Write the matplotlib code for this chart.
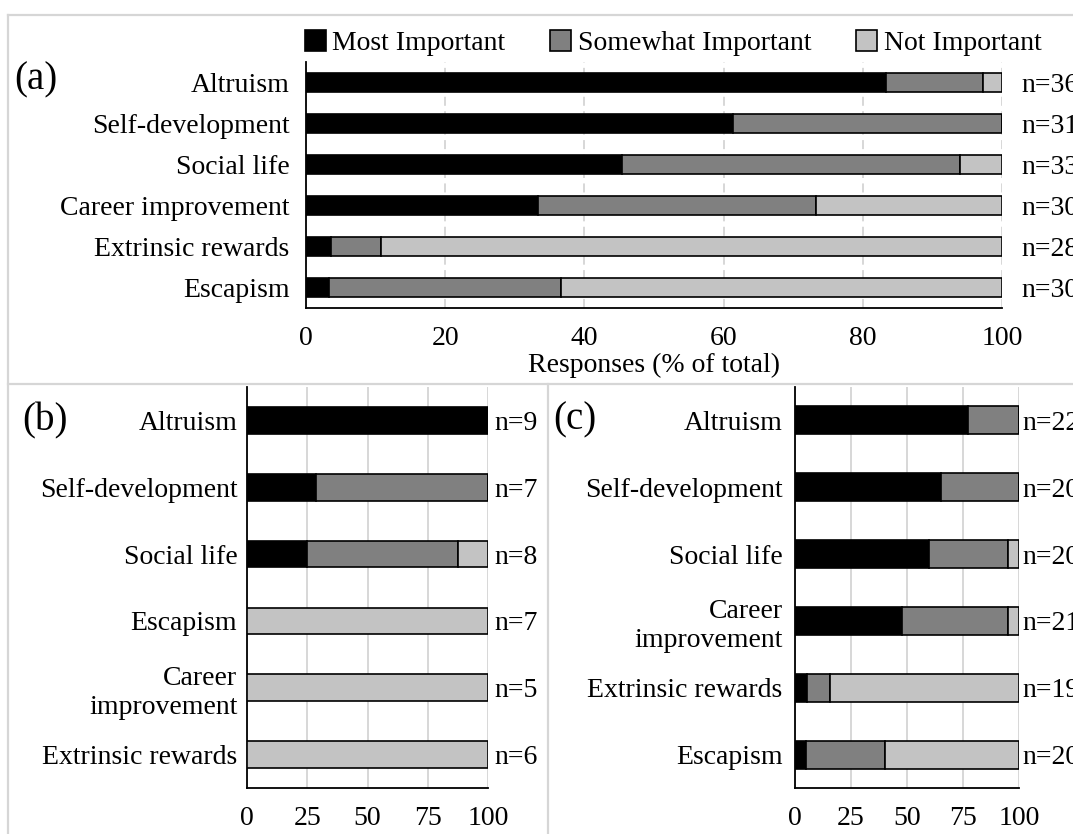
import numpy as np
import matplotlib.pyplot as plt
from matplotlib.lines import Line2D

plt.rcParams['font.family'] = ['Liberation Serif', 'DejaVu Serif']
plt.rcParams['font.size'] = 20

levels = ['Most Important', 'Somewhat Important', 'Not Important']
colors = ['#000000', '#808080', '#c3c3c3']

# panel (a): all respondents, counts per importance level
cats_a = ['Altruism', 'Self-development', 'Social life', 'Career improvement',
          'Extrinsic rewards', 'Escapism']
most_a = [30, 19, 15, 10, 1, 1]
some_a = [5, 12, 16, 12, 2, 10]
not_a = [1, 0, 2, 8, 25, 19]

# panel (b)
cats_b = ['Altruism', 'Self-development', 'Social life', 'Escapism',
          'Career\nimprovement', 'Extrinsic rewards']
most_b = [9, 2, 2, 0, 0, 0]
some_b = [0, 5, 5, 0, 0, 0]
not_b = [0, 0, 1, 7, 5, 6]

# panel (c)
cats_c = ['Altruism', 'Self-development', 'Social life', 'Career\nimprovement',
          'Extrinsic rewards', 'Escapism']
most_c = [17, 13, 12, 10, 1, 1]
some_c = [5, 7, 7, 10, 2, 7]
not_c = [0, 0, 1, 1, 16, 12]

W, H = 1073, 834
fig = plt.figure(figsize=(W / 100, H / 100), dpi=100)


def box(x0, x1, y0, y1):
    # pixel box -> figure fraction rect
    return [x0 / W, 1 - y1 / H, (x1 - x0) / W, (y1 - y0) / H]


def stacked(ax, cats, most, some, none, height, ticks, dashed, ypad, ntxt_pad):
    counts = np.array([most, some, none], dtype=float)
    n = counts.sum(axis=0)
    pct = counts / n * 100
    y = np.arange(len(cats))
    left = np.zeros(len(cats))
    bars = []
    for i in range(3):
        b = ax.barh(y, pct[i], left=left, height=height, color=colors[i],
                    edgecolor='black', linewidth=1.2, label=levels[i], zorder=3)
        bars.append(b)
        left += pct[i]
    for yi, ni in zip(y, n):
        ax.text(100 + ntxt_pad, yi, f'n={int(ni)}', va='center_baseline',
                ha='left', clip_on=False)
    ax.set_xlim(0, 100)
    ax.set_ylim(len(cats) - 0.5, -0.5)
    ax.set_yticks(y)
    ax.set_yticklabels(cats)
    ax.set_xticks(ticks)
    ax.tick_params(axis='both', length=0)
    ax.tick_params(axis='y', pad=ypad)
    ax.tick_params(axis='x', pad=13)
    ax.xaxis.grid(True, color='#d4d4d4', linewidth=1.3,
                  linestyle=(0, (5, 3)) if dashed else '-', zorder=0)
    ax.set_axisbelow(True)
    for s in ['top', 'right']:
        ax.spines[s].set_visible(False)
    for s in ['left', 'bottom']:
        ax.spines[s].set_linewidth(1.3)
    return bars


ax_a = fig.add_axes(box(306, 1002, 62, 308))
bars = stacked(ax_a, cats_a, most_a, some_a, not_a, 0.44, [0, 20, 40, 60, 80, 100],
               True, 12, 2.8)
ax_a.set_xlabel('Responses (% of total)', labelpad=1)

ax_b = fig.add_axes(box(247, 488, 387, 788))
stacked(ax_b, cats_b, most_b, some_b, not_b, 0.4, [0, 25, 50, 75, 100],
        False, 7, 2.5)

ax_c = fig.add_axes(box(795, 1019, 387, 788))
stacked(ax_c, cats_c, most_c, some_c, not_c, 0.42, [0, 25, 50, 75, 100],
        False, 9, 1.5)

fig.legend(handles=bars, loc='center', bbox_to_anchor=(673 / W, 1 - 43 / H),
           ncol=3, frameon=False, handlelength=0.75, handleheight=0.8,
           handletextpad=0.25, columnspacing=1.6, borderaxespad=0)

# panel letters
fig.text(36 / W, 1 - 80 / H, '(a)', fontsize=28, ha='center', va='center')
fig.text(45 / W, 1 - 421 / H, '(b)', fontsize=28, ha='center', va='center')
fig.text(575 / W, 1 - 420 / H, '(c)', fontsize=28, ha='center', va='center')

# light frame and panel separators
frame = dict(color='#d6d6d6', linewidth=1.6, transform=fig.transFigure)
fig.add_artist(Line2D([8 / W, 1], [1 - 15 / H] * 2, **frame))
fig.add_artist(Line2D([8 / W] * 2, [0, 1 - 15 / H], **frame))
fig.add_artist(Line2D([8 / W, 1], [1 - 384 / H] * 2, **frame))
fig.add_artist(Line2D([548 / W] * 2, [0, 1 - 384 / H], **frame))

fig.savefig('out.png', dpi=100)
